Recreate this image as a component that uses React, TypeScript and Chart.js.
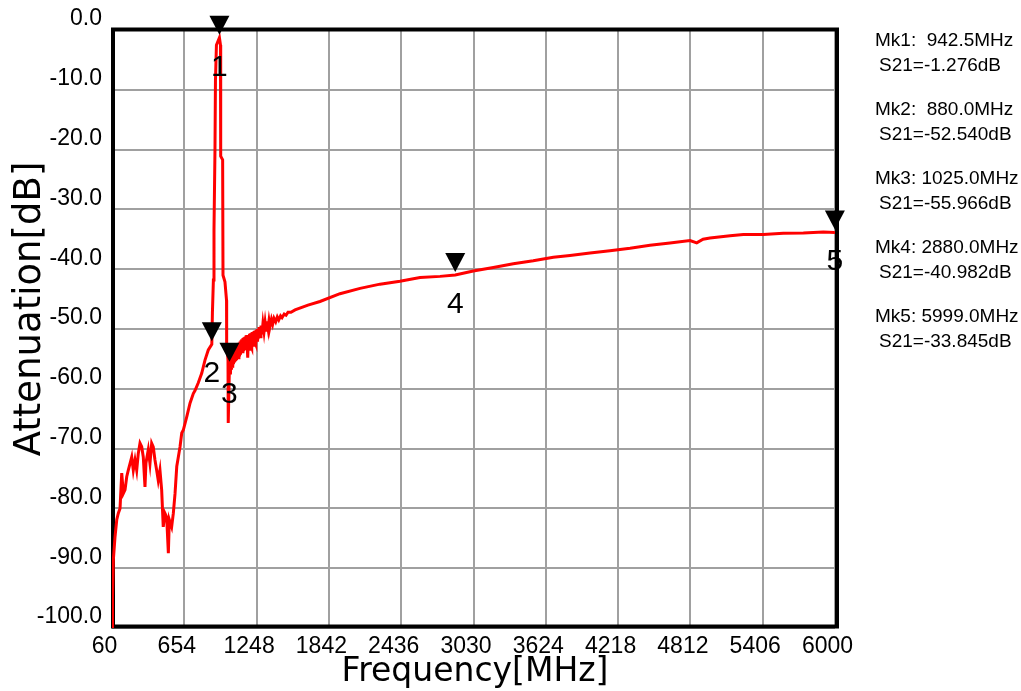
import React, { useEffect, useRef } from "react";
import { Chart, registerables } from "chart.js";

Chart.register(...registerables);

// Trace: frequency (MHz) and S21 (dB)
const freqMHz = [
  62, 64, 71, 85, 99, 112, 126, 140, 153, 167, 181, 194, 208, 222, 235, 249, 263, 276, 290, 304,
  317, 331, 339, 358, 372, 386, 399, 413, 427, 440, 454, 468, 481, 495, 509, 523, 531, 550, 564, 578,
  592, 605, 619, 633, 646, 674, 701, 728, 742, 769, 797, 824, 851, 880, 885, 893, 898, 906, 910, 918,
  942.5, 951, 953, 969, 972, 988, 1001, 1002, 1013, 1015, 1025,
  1033, 1038, 1042, 1046, 1050, 1054, 1058, 1063, 1067, 1071, 1075, 1079, 1083, 1087, 1091, 1095, 1099, 1103, 1108, 1112,
  1116, 1120, 1124, 1128, 1132, 1136, 1140, 1145, 1149, 1153, 1157, 1161, 1165, 1169, 1175, 1181, 1186, 1190, 1194, 1198,
  1202, 1206, 1210, 1215, 1219, 1223, 1227, 1231, 1235, 1239, 1243, 1248, 1252, 1256, 1260, 1268, 1276, 1284, 1292, 1300,
  1309, 1318, 1326, 1333, 1342, 1350, 1358, 1370, 1380, 1391, 1405, 1418, 1430, 1445, 1457, 1475, 1490, 1506, 1530, 1564,
  1670, 1769, 1933, 2098, 2262, 2426, 2591, 2755, 2880, 3028, 3193, 3357, 3521, 3686, 3823, 3987, 4151, 4316, 4480, 4644,
  4809, 4864, 4916, 4973, 5138, 5247, 5411, 5575, 5740, 5904, 5999, 6000,
];
const s21dB = [
  -100, -94.8, -88.6, -84.7, -81.9, -80.8, -80.0, -74.1, -77.5, -76.9, -74.7, -73.6, -72.5, -71.4, -73.6, -71.9, -73.6, -70.8, -69.1, -69.7,
  -71.4, -76.4, -72.4, -70.2, -72.5, -69.1, -69.7, -71.9, -73.6, -75.3, -73.6, -76.9, -83.1, -80.8, -81.4, -87.5, -81.9, -83.1, -80.8, -77.5,
  -73.0, -71.4, -69.7, -67.4, -66.9, -64.7, -62.4, -60.8, -60.3, -59.0, -57.4, -55.2, -53.5, -52.54, -47.3, -41.8, -33.4, -20.1, -8.4, -2.5,
  -1.276, -2.5, -21.1, -21.7, -41.0, -42.1, -45.2, -52.3, -55.2, -65.7, -55.966,
  -57.6, -54.2, -56.8, -54.0, -56.5, -53.6, -55.9, -53.4, -55.6, -53.1, -55.4, -52.9, -55.2, -52.7, -55.0, -52.5, -54.8, -52.3, -54.6, -52.1,
  -54.3, -51.9, -54.0, -51.7, -53.8, -51.5, -53.7, -51.4, -53.5, -51.3, -53.3, -51.1, -53.6, -51.0, -54.8, -51.2, -53.4, -50.8, -53.0, -50.7,
  -52.9, -50.6, -53.2, -50.5, -52.7, -50.4, -52.5, -50.3, -52.3, -50.2, -52.6, -50.1, -51.9, -50.0, -51.7, -49.7, -51.3, -49.4, -50.9, -49.1,
  -50.5, -48.9, -50.2, -48.7, -49.9, -48.6, -49.6, -48.4, -49.2, -48.2, -48.8, -48.0, -48.5, -47.8, -48.1, -47.5, -47.7, -47.2, -47.2, -46.8,
  -46.0, -45.4, -44.1, -43.2, -42.5, -42.0, -41.4, -41.2, -40.982, -40.3, -39.7, -39.1, -38.6, -38.0, -37.7, -37.3, -36.9, -36.5, -36.0, -35.6,
  -35.2, -35.6, -35.0, -34.8, -34.4, -34.2, -34.2, -34.0, -33.95, -33.8, -33.845, -33.8,
];

const xTickValues = [60, 654, 1248, 1842, 2436, 3030, 3624, 4218, 4812, 5406, 6000];
const yTickValues = [0, -10, -20, -30, -40, -50, -60, -70, -80, -90, -100];

const markerFreq = [942.5, 880.0, 1025.0, 2880.0, 5999.0];
const markerDb = [-1.276, -52.54, -55.966, -40.982, -33.845];
const markerNames = ["1", "2", "3", "4", "5"];

const xTitle = "Frequency[MHz]";
const yTitle = "Attenuation[dB]";

const TITLE_FONT = "'DejaVu Sans', sans-serif";
const FONT = "'Liberation Sans', Arial, sans-serif";

const overlayPlugin = {
  id: "overlay",
  beforeDatasetsDraw(chart: any) {
    const { ctx, chartArea: a } = chart;
    ctx.save();
    ctx.strokeStyle = "#000";
    ctx.lineWidth = 4;
    ctx.strokeRect(a.left + 1, a.top - 0.5, a.right - a.left + 1, a.bottom - a.top - 1);
    ctx.restore();
  },
  afterDatasetsDraw(chart: any) {
    const { ctx } = chart;
    const xs = chart.scales.x;
    const ys = chart.scales.y;
    ctx.save();
    // markers
    for (let i = 0; i < markerFreq.length; i++) {
      const px = xs.getPixelForValue(markerFreq[i]);
      const py = ys.getPixelForValue(markerDb[i]);
      ctx.fillStyle = "#000";
      ctx.beginPath();
      ctx.moveTo(px - 10, py - 22);
      ctx.lineTo(px + 10, py - 22);
      ctx.lineTo(px, py - 3);
      ctx.closePath();
      ctx.fill();
      ctx.font = `30px ${FONT}`;
      ctx.textAlign = "center";
      ctx.textBaseline = "alphabetic";
      ctx.fillText(markerNames[i], px, py + 38);
    }
    // marker readouts
    ctx.textAlign = "left";
    ctx.textBaseline = "middle";
    ctx.font = `19px ${FONT}`;
    ctx.fillStyle = "#000";
    for (let i = 0; i < markerFreq.length; i++) {
      const y0 = 41 + i * 69;
      const fTxt = markerFreq[i].toFixed(1).padStart(6, " ");
      ctx.fillText(`Mk${i + 1}: ${fTxt}MHz`, 875, y0);
      ctx.fillText(`S21=${markerDb[i].toFixed(3)}dB`, 879, y0 + 25);
    }
    // axis titles
    ctx.font = `33px ${TITLE_FONT}`;
    ctx.textAlign = "center";
    ctx.textBaseline = "alphabetic";
    ctx.fillText(xTitle, 475, 681);
    ctx.save();
    ctx.translate(40, 309);
    ctx.rotate(-Math.PI / 2);
    ctx.font = `37px ${TITLE_FONT}`;
    ctx.fillText(yTitle, 0, 0);
    ctx.restore();
    ctx.restore();
  },
};

export default function App() {
  const ref = useRef<HTMLCanvasElement | null>(null);
  useEffect(() => {
    if (!ref.current) return;
    const points = freqMHz.map((f, i) => ({ x: f, y: s21dB[i] }));
    const chart = new Chart(ref.current, {
      type: "line",
      data: {
        datasets: [
          {
            data: points,
            borderColor: "#ff0000",
            borderWidth: 3,
            pointRadius: 0,
            tension: 0,
            fill: false,
          },
        ],
      },
      options: {
        animation: false,
        responsive: false,
        devicePixelRatio: 1,
        layout: { padding: { top: 30, right: 186, left: 0, bottom: 0 } },
        plugins: { legend: { display: false }, tooltip: { enabled: false } },
        scales: {
          x: {
            type: "linear",
            min: 60,
            max: 6000,
            afterBuildTicks: (s: any) => {
              s.ticks = xTickValues.map((v) => ({ value: v }));
            },
            afterFit: (s: any) => {
              s.height = 63;
            },
            ticks: {
              autoSkip: false,
              maxRotation: 0,
              padding: 5,
              labelOffset: -7.5,
              color: "#000",
              font: { family: FONT, size: 23 },
              callback: (v: any) => String(v),
            },
            grid: { color: "#a0a0a0", lineWidth: 2, drawTicks: false },
            border: { display: false },
          },
          y: {
            type: "linear",
            min: -100,
            max: 0,
            afterBuildTicks: (s: any) => {
              s.ticks = yTickValues.map((v) => ({ value: v }));
            },
            afterFit: (s: any) => {
              s.width = 112;
            },
            ticks: {
              autoSkip: false,
              padding: 10,
              labelOffset: -11,
              color: "#000",
              font: { family: FONT, size: 23 },
              callback: (v: any) => Number(v).toFixed(1),
            },
            grid: { color: "#a0a0a0", lineWidth: 2, drawTicks: false },
            border: { display: false },
          },
        },
      },
      plugins: [overlayPlugin],
    });
    return () => chart.destroy();
  }, []);
  return (
    <div style={{ position: "fixed", left: 0, top: 0, width: 1021, height: 691, background: "#fff" }}>
      <canvas ref={ref} width={1021} height={691} />
    </div>
  );
}
